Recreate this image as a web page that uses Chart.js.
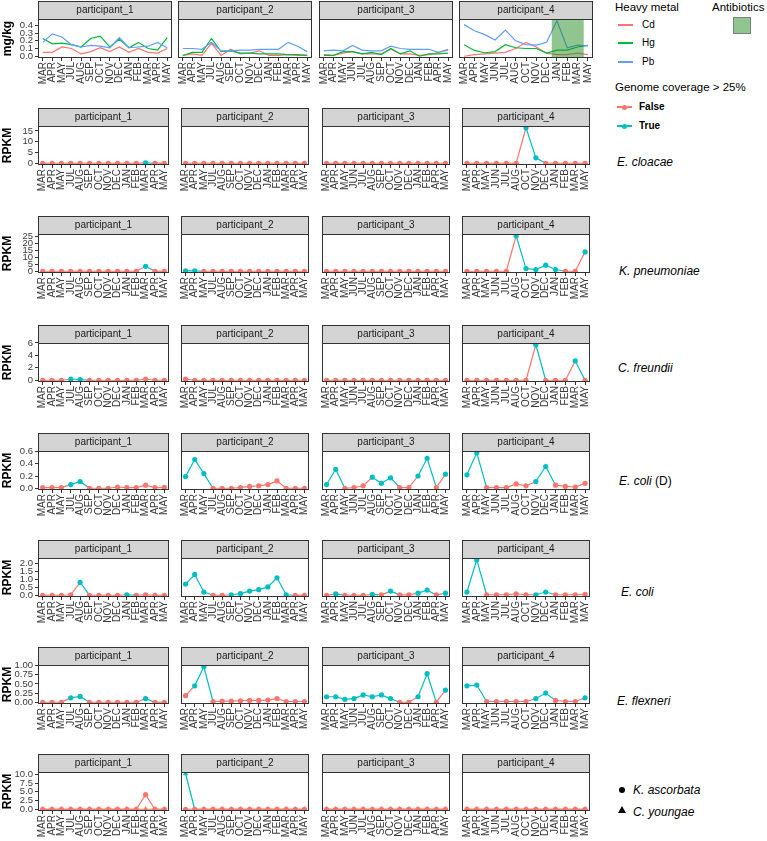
<!DOCTYPE html>
<html>
<head>
<meta charset="utf-8">
<script src="https://cdn.jsdelivr.net/npm/chart.js@4.4.0/dist/chart.umd.min.js"></script>
<style>
  body { margin: 0; background: #fff; font-family: "Liberation Sans", Arial, sans-serif; }
  #wrap { position: relative; width: 767px; height: 841px; overflow: hidden; }
  #wrap canvas { position: absolute; }
  .lg { position: absolute; white-space: nowrap; color: #000; line-height: 1; }
  .ttl { font-size: 11.5px; }
  .itm { font-size: 10px; }
  .sp { font-size: 12px; font-style: italic; }
  .key-line { position: absolute; height: 1.5px; width: 15px; }
  .key-dot { position: absolute; width: 5px; height: 5px; border-radius: 50%; }
</style>
</head>
<body>
<div id="wrap">
  <div class="lg ttl" style="left:615px;top:2px">Heavy metal</div>
  <div class="key-line" style="left:618px;top:24px;background:#F8766D"></div>
  <div class="lg itm" style="left:642px;top:20px">Cd</div>
  <div class="key-line" style="left:618px;top:42px;background:#00BA38"></div>
  <div class="lg itm" style="left:642px;top:38px">Hg</div>
  <div class="key-line" style="left:618px;top:61px;background:#619CFF"></div>
  <div class="lg itm" style="left:642px;top:57px">Pb</div>

  <div class="lg ttl" style="left:712px;top:2px">Antibiotics</div>
  <div style="position:absolute;left:733px;top:17px;width:16px;height:15px;background:#8FC58F;border:1.5px solid #808080"></div>

  <div class="lg ttl" style="left:615px;top:82px">Genome coverage &gt; 25%</div>
  <div class="key-line" style="left:617px;top:106px;background:#F8766D"></div>
  <div class="key-dot" style="left:622px;top:105px;background:#F8766D"></div>
  <div class="lg itm" style="left:639px;top:102px;font-weight:bold">False</div>
  <div class="key-line" style="left:617px;top:125px;background:#00BFC4"></div>
  <div class="key-dot" style="left:622px;top:124px;background:#00BFC4"></div>
  <div class="lg itm" style="left:639px;top:121px;font-weight:bold">True</div>

  <div class="lg sp" style="left:617px;top:156px">E. cloacae</div>
  <div class="lg sp" style="left:619px;top:265px">K. pneumoniae</div>
  <div class="lg sp" style="left:618px;top:362px">C. freundii</div>
  <div class="lg sp" style="left:619px;top:475px">E. coli <span style="font-style:normal">(D)</span></div>
  <div class="lg sp" style="left:621px;top:586px">E. coli</div>
  <div class="lg sp" style="left:617px;top:695px">E. flexneri</div>

  <div class="key-dot" style="left:619px;top:787px;width:6px;height:6px;background:#000"></div>
  <div class="lg sp" style="left:633px;top:784px">K. ascorbata</div>
  <div style="position:absolute;left:618px;top:806px;width:0;height:0;border-left:4px solid transparent;border-right:4px solid transparent;border-bottom:7px solid #000"></div>
  <div class="lg sp" style="left:633px;top:806px">C. youngae</div>
</div>
<script>
// --- DATA ---
const participants = ['participant_1', 'participant_2', 'participant_3', 'participant_4'];
const monthsP1 = ['MAR', 'APR', 'MAY', 'JUL', 'AUG', 'SEP', 'OCT', 'NOV', 'DEC', 'JAN', 'FEB', 'MAR', 'APR', 'MAY'];
const monthsP2 = ['MAR', 'APR', 'MAY', 'JUL', 'AUG', 'SEP', 'OCT', 'NOV', 'DEC', 'JAN', 'FEB', 'MAR', 'APR', 'MAY'];
const monthsP3 = ['MAR', 'APR', 'MAY', 'JUN', 'JUL', 'AUG', 'SEP', 'OCT', 'NOV', 'DEC', 'JAN', 'FEB', 'APR', 'MAY'];
const monthsP4 = ['MAR', 'APR', 'MAY', 'JUN', 'JUL', 'AUG', 'OCT', 'NOV', 'DEC', 'JAN', 'FEB', 'MAR', 'MAY'];
const months = [monthsP1, monthsP2, monthsP3, monthsP4];

// heavy metals, mg/kg (one array per participant)
const heavyCd = [
    [0.05, 0.05, 0.12, 0.10, 0.03, 0.06, 0.11, 0.06, 0.12, 0.05, 0.10, 0.05, 0.04, 0.10],
    [0.01, 0.03, 0.01, 0.17, 0.01, 0.09, 0.03, 0.04, 0.07, 0.01, 0.01, 0.02, 0.01, 0.01],
    [0.02, 0.01, 0.04, 0.06, 0.03, 0.03, 0.03, 0.09, 0.03, 0.03, 0.01, 0.02, 0.05, 0.08],
    [0.00, 0.02, 0.03, 0.04, 0.05, 0.10, 0.18, 0.12, 0.04, 0.02, 0.02, 0.04, 0.02]
];
const heavyHg = [
    [0.23, 0.16, 0.17, 0.15, 0.12, 0.23, 0.26, 0.12, 0.22, 0.11, 0.18, 0.10, 0.08, 0.24],
    [0.01, 0.05, 0.05, 0.23, 0.06, 0.07, 0.04, 0.04, 0.03, 0.03, 0.03, 0.02, 0.02, 0.01],
    [0.01, 0.01, 0.06, 0.06, 0.03, 0.05, 0.02, 0.10, 0.03, 0.07, 0.00, 0.03, 0.03, 0.04],
    [0.15, 0.075, 0.045, 0.06, 0.15, 0.11, 0.10, 0.10, 0.04, 0.08, 0.08, 0.12, 0.14]
];
const heavyPb = [
    [0.18, 0.29, 0.25, 0.15, 0.12, 0.14, 0.13, 0.11, 0.24, 0.11, 0.12, 0.13, 0.18, 0.11],
    [0.10, 0.10, 0.09, 0.18, 0.07, 0.07, 0.08, 0.08, 0.09, 0.09, 0.09, 0.18, 0.13, 0.06],
    [0.07, 0.08, 0.07, 0.14, 0.08, 0.07, 0.07, 0.13, 0.10, 0.09, 0.09, 0.09, 0.05, 0.09],
    [0.41, 0.33, 0.28, 0.21, 0.34, 0.20, 0.15, 0.145, 0.18, 0.46, 0.11, 0.145, 0.135]
];
const heavyTicks = ['0.0', '0.1', '0.2', '0.3', '0.4'];
const antibioticsP4 = [8.5, 11.6]; // DEC/JAN .. MAR/MAY, category units

// RPKM per species; *True = genome coverage > 25%
const cloacaeRpkm = [
    [0, 0, 0, 0, 0, 0, 0, 0, 0, 0, 0, 0.2, 0, 0],
    [0, 0, 0, 0, 0, 0, 0, 0, 0, 0, 0, 0, 0, 0],
    [0, 0, 0, 0, 0, 0, 0, 0, 0, 0, 0, 0, 0, 0],
    [0, 0, 0, 0, 0, 0, 16.5, 2.5, 0, 0, 0, 0, 0]
];
const cloacaeTrue = [
    [0, 0, 0, 0, 0, 0, 0, 0, 0, 0, 0, 1, 0, 0],
    [0, 0, 0, 0, 0, 0, 0, 0, 0, 0, 0, 0, 0, 0],
    [0, 0, 0, 0, 0, 0, 0, 0, 0, 0, 0, 0, 0, 0],
    [0, 0, 0, 0, 0, 0, 1, 1, 0, 0, 0, 0, 0]
];
const cloacaeTicks = ['0', '5', '10', '15'];

const pneumoniaeRpkm = [
    [0, 0, 0, 0, 0, 0, 0, 0, 0, 0, 0, 3.5, 0, 0],
    [0.3, 0.3, 0, 0, 0, 0, 0, 0, 0, 0, 0, 0, 0, 0],
    [0, 0, 0, 0, 0, 0, 0, 0, 0, 0, 0, 0, 0, 0],
    [0, 0, 0, 0, 0, 25.3, 1.9, 1.2, 4.3, 1.2, 0, 0, 13.8]
];
const pneumoniaeTrue = [
    [0, 0, 0, 0, 0, 0, 0, 0, 0, 0, 0, 1, 0, 0],
    [1, 1, 0, 0, 0, 0, 0, 0, 0, 0, 0, 0, 0, 0],
    [0, 0, 0, 0, 0, 0, 0, 0, 0, 0, 0, 0, 0, 0],
    [0, 0, 0, 0, 0, 1, 1, 1, 1, 1, 0, 0, 1]
];
const pneumoniaeTicks = ['0', '5', '10', '15', '20', '25'];

const freundiiRpkm = [
    [0, 0, 0, 0.2, 0.1, 0, 0, 0, 0, 0, 0, 0.2, 0, 0],
    [0.2, 0, 0, 0, 0, 0, 0, 0, 0, 0, 0, 0, 0, 0],
    [0, 0, 0, 0, 0, 0, 0, 0, 0, 0, 0, 0, 0, 0],
    [0, 0, 0, 0, 0, 0, 0, 5.7, 0, 0, 0, 3.1, 0]
];
const freundiiTrue = [
    [0, 0, 0, 1, 1, 0, 0, 0, 0, 0, 0, 0, 0, 0],
    [0, 0, 0, 0, 0, 0, 0, 0, 0, 0, 0, 0, 0, 0],
    [0, 0, 0, 0, 0, 0, 0, 0, 0, 0, 0, 0, 0, 0],
    [0, 0, 0, 0, 0, 0, 0, 1, 0, 0, 0, 1, 0]
];
const freundiiTicks = ['0', '2', '4', '6'];

const coliDRpkm = [
    [0.01, 0.01, 0.01, 0.06, 0.11, 0, 0, 0, 0.02, 0.01, 0.01, 0.05, 0.01, 0.015],
    [0.19, 0.47, 0.24, 0, 0, 0, 0.01, 0.03, 0.04, 0.06, 0.12, 0, 0, 0],
    [0.06, 0.31, 0, 0.01, 0.04, 0.18, 0.08, 0.17, 0.01, 0.01, 0.2, 0.49, 0.01, 0.23],
    [0.22, 0.58, 0.01, 0.01, 0.01, 0.07, 0.04, 0.11, 0.355, 0.05, 0.03, 0.02, 0.08]
];
const coliDTrue = [
    [0, 0, 0, 1, 1, 0, 0, 0, 0, 0, 0, 0, 0, 0],
    [1, 1, 1, 0, 0, 0, 0, 0, 0, 0, 0, 0, 0, 0],
    [1, 1, 0, 0, 0, 1, 1, 1, 0, 0, 1, 1, 0, 1],
    [1, 1, 0, 0, 0, 0, 0, 1, 1, 0, 0, 0, 0]
];
const coliDTicks = ['0.0', '0.2', '0.4', '0.6'];

const coliRpkm = [
    [0, 0, 0, 0.03, 0.8, 0, 0, 0, 0, 0.03, 0, 0.03, 0, 0],
    [0.7, 1.3, 0.2, 0, 0, 0.03, 0.1, 0.26, 0.35, 0.52, 1.09, 0.03, 0, 0],
    [0, 0.08, 0, 0, 0, 0.05, 0.02, 0.26, 0.02, 0.02, 0.13, 0.32, 0.02, 0.13],
    [0.2, 2.22, 0.03, 0.03, 0.03, 0.08, 0.03, 0.03, 0.2, 0.03, 0.03, 0.03, 0.06]
];
const coliTrue = [
    [0, 0, 0, 0, 1, 0, 0, 0, 0, 1, 0, 0, 0, 0],
    [1, 1, 1, 0, 0, 1, 1, 1, 1, 1, 1, 1, 0, 0],
    [0, 1, 0, 0, 0, 1, 0, 1, 0, 0, 1, 1, 0, 1],
    [1, 1, 0, 0, 0, 0, 0, 1, 1, 0, 0, 0, 0]
];
const coliTicks = ['0.0', '0.5', '1.0', '1.5', '2.0'];

const flexneriRpkm = [
    [0, 0, 0, 0.12, 0.16, 0, 0, 0, 0, 0, 0, 0.1, 0, 0],
    [0.18, 0.45, 0.97, 0.02, 0.03, 0.03, 0.04, 0.05, 0.05, 0.06, 0.1, 0.02, 0.02, 0.02],
    [0.15, 0.15, 0.08, 0.1, 0.2, 0.15, 0.2, 0.1, 0, 0, 0.15, 0.78, 0, 0.33],
    [0.45, 0.47, 0.02, 0.02, 0.02, 0.02, 0.02, 0.1, 0.25, 0.05, 0.02, 0.02, 0.12]
];
const flexneriTrue = [
    [0, 0, 0, 1, 1, 0, 0, 0, 0, 0, 0, 1, 0, 0],
    [0, 1, 1, 0, 0, 0, 0, 0, 0, 0, 0, 0, 0, 0],
    [1, 1, 1, 1, 1, 1, 1, 1, 0, 0, 1, 1, 0, 1],
    [1, 1, 0, 0, 0, 0, 0, 1, 1, 0, 0, 0, 1]
];
const flexneriTicks = ['0.00', '0.25', '0.50', '0.75', '1.00'];

const ascorbataRpkm = [
    [0, 0, 0, 0, 0, 0, 0, 0, 0, 0, 0, 4.2, 0, 0],
    [0, 0, 0, 0, 0, 0, 0, 0, 0, 0, 0, 0, 0, 0],
    [0, 0, 0, 0, 0, 0, 0, 0, 0, 0, 0, 0, 0, 0],
    [0, 0, 0, 0, 0, 0, 0, 0, 0, 0, 0, 0, 0]
];
const ascorbataTrue = [
    [0, 0, 0, 0, 0, 0, 0, 0, 0, 0, 0, 0, 0, 0],
    [0, 0, 0, 0, 0, 0, 0, 0, 0, 0, 0, 0, 0, 0],
    [0, 0, 0, 0, 0, 0, 0, 0, 0, 0, 0, 0, 0, 0],
    [0, 0, 0, 0, 0, 0, 0, 0, 0, 0, 0, 0, 0]
];
const youngaeRpkm = [
    [0, 0, 0, 0, 0, 0, 0, 0, 0, 0, 0, 0, 0, 0],
    [10.2, 0, 0, 0, 0, 0, 0, 0, 0, 0, 0, 0, 0, 0],
    [0, 0, 0, 0, 0, 0, 0, 0, 0, 0, 0, 0, 0, 0],
    [0, 0, 0, 0, 0, 0, 0, 0, 0, 0, 0, 0, 0]
];
const youngaeTrue = [
    [0, 0, 0, 0, 0, 0, 0, 0, 0, 0, 0, 0, 0, 0],
    [1, 0, 0, 0, 0, 0, 0, 0, 0, 0, 0, 0, 0, 0],
    [0, 0, 0, 0, 0, 0, 0, 0, 0, 0, 0, 0, 0, 0],
    [0, 0, 0, 0, 0, 0, 0, 0, 0, 0, 0, 0, 0]
];
const shapeTicks = ['0.0', '2.5', '5.0', '7.5', '10.0'];

// --- STYLE / LAYOUT ---
const COL_FALSE = '#F8766D', COL_TRUE = '#00BFC4';
const COL_CD = '#F8766D', COL_HG = '#00BA38', COL_PB = '#619CFF';
const PANEL_LEFT = [38, 178, 319, 459];
const PANEL_W = 134;
const Y_AXIS_W = 38;
const STRIP_H = 18, PLOT_H = 39, XAXIS_H = 32;
const ROW_TOP = [0, 107, 215, 324, 432, 539, 646, 753];
const FONT = '"Liberation Sans", Arial, sans-serif';

const wrap = document.getElementById('wrap');

// strip + panel border + antibiotics shading
const facetPlugin = {
    id: 'facet',
    afterDatasetsDraw(chart, args, opts) {
        if (!opts.shade) return;
        const { ctx, chartArea: ca } = chart;
        const x = chart.scales.x;
        const x0 = x.getPixelForValue(opts.shade[0]);
        const x1 = x.getPixelForValue(opts.shade[1]);
        ctx.save();
        ctx.fillStyle = 'rgba(34,139,34,0.5)';
        ctx.fillRect(x0, ca.top, x1 - x0, ca.bottom - ca.top);
        ctx.restore();
    },
    afterDraw(chart, args, opts) {
        const { ctx, chartArea: ca } = chart;
        ctx.save();
        const l = Math.round(ca.left) + 0.5, r = Math.round(ca.right) - 0.5;
        const t = Math.round(ca.top) + 0.5, b = Math.round(ca.bottom) - 0.5;
        ctx.fillStyle = '#D4D4D4';
        ctx.fillRect(l, t - STRIP_H, r - l, STRIP_H);
        ctx.strokeStyle = '#333333';
        ctx.lineWidth = 1;
        ctx.strokeRect(l, t - STRIP_H, r - l, STRIP_H);
        ctx.strokeRect(l, t, r - l, b - t);
        ctx.fillStyle = '#1A1A1A';
        ctx.font = '10px ' + FONT;
        ctx.textAlign = 'center';
        ctx.textBaseline = 'middle';
        ctx.fillText(opts.title, (l + r) / 2, t - STRIP_H / 2);
        ctx.restore();
    }
};

function rowRange(seriesList) {
    const all = seriesList.flat(2);
    const lo = Math.min(...all), hi = Math.max(...all);
    const pad = (hi - lo) * 0.05;
    return { min: lo - pad, max: hi + pad };
}

function statusDataset(values, status, style) {
    const colorOf = s => (s ? COL_TRUE : COL_FALSE);
    return {
        data: values,
        borderWidth: 1.2,
        borderColor: COL_FALSE,
        segment: { borderColor: c => colorOf(status[c.p0DataIndex]) },
        pointStyle: style,
        pointRadius: style === 'triangle' ? 3.2 : 2.6,
        pointBorderWidth: 0,
        pointBackgroundColor: status.map(colorOf),
        pointBorderColor: status.map(colorOf)
    };
}

function buildPanel(rowTop, col, datasets, range, tickLabels, yTitle, shade) {
    const first = col === 0;
    const canvas = document.createElement('canvas');
    const w = PANEL_W + (first ? Y_AXIS_W : 1) + 1;
    const h = STRIP_H + 1 + PLOT_H + XAXIS_H;
    canvas.width = w;
    canvas.height = h;
    canvas.style.left = (PANEL_LEFT[col] - (first ? Y_AXIS_W : 1)) + 'px';
    canvas.style.top = rowTop + 'px';
    wrap.appendChild(canvas);

    const tickVals = tickLabels.map(Number);
    const tickGrid = { display: true, drawOnChartArea: false, drawTicks: true, tickLength: 3, color: '#333333', offset: false };

    new Chart(canvas, {
        type: 'line',
        data: { labels: months[col], datasets },
        options: {
            responsive: false,
            animation: false,
            devicePixelRatio: 1,
            layout: { padding: { top: STRIP_H + 1, left: first ? 0 : 1, right: 1, bottom: 0 } },
            plugins: {
                legend: { display: false },
                tooltip: { enabled: false },
                facet: { title: participants[col], shade }
            },
            scales: {
                x: {
                    type: 'category',
                    offset: true,
                    grid: tickGrid,
                    border: { display: false },
                    ticks: { minRotation: 90, maxRotation: 90, autoSkip: false, padding: 1, color: '#3A3A3A', font: { family: FONT, size: 10 } },
                    afterFit: s => { s.height = XAXIS_H; s.paddingLeft = 0; s.paddingRight = 0; }
                },
                y: {
                    display: first,
                    min: range.min,
                    max: range.max,
                    grid: tickGrid,
                    border: { display: false },
                    afterBuildTicks: s => { s.ticks = tickVals.map(v => ({ value: v })); },
                    ticks: { autoSkip: false, padding: 2, color: '#3A3A3A', font: { family: FONT, size: 9.5 }, callback: (v, i) => tickLabels[i] },
                    title: { display: true, text: yTitle, color: '#000', font: { family: FONT, size: 12, weight: 'bold' }, padding: { top: 0, bottom: 0 } },
                    afterFit: s => {
                        s.paddingTop = 0; s.paddingBottom = 0;
                        if (first) s.width = Y_AXIS_W;
                    }
                }
            }
        },
        plugins: [facetPlugin]
    });
}

// --- BUILD ---
function main() {
    // heavy metal row
    const heavyRange = rowRange([heavyCd, heavyHg, heavyPb]);
    for (let c = 0; c < 4; c++) {
        const line = (d, col) => ({ data: d, borderColor: col, borderWidth: 1.2, pointRadius: 0 });
        buildPanel(ROW_TOP[0], c, [line(heavyCd[c], COL_CD), line(heavyHg[c], COL_HG), line(heavyPb[c], COL_PB)].reverse(),
            heavyRange, heavyTicks, 'mg/kg', c === 3 ? antibioticsP4 : null);
    }

    const speciesRows = [
        { values: cloacaeRpkm, status: cloacaeTrue, ticks: cloacaeTicks },
        { values: pneumoniaeRpkm, status: pneumoniaeTrue, ticks: pneumoniaeTicks },
        { values: freundiiRpkm, status: freundiiTrue, ticks: freundiiTicks },
        { values: coliDRpkm, status: coliDTrue, ticks: coliDTicks },
        { values: coliRpkm, status: coliTrue, ticks: coliTicks },
        { values: flexneriRpkm, status: flexneriTrue, ticks: flexneriTicks }
    ];
    speciesRows.forEach((row, r) => {
        const range = rowRange([row.values]);
        for (let c = 0; c < 4; c++) {
            buildPanel(ROW_TOP[r + 1], c, [statusDataset(row.values[c], row.status[c], 'circle')], range, row.ticks, 'RPKM');
        }
    });

    // last row: two species by shape
    const shapeRange = rowRange([ascorbataRpkm, youngaeRpkm]);
    for (let c = 0; c < 4; c++) {
        buildPanel(ROW_TOP[7], c, [
            statusDataset(youngaeRpkm[c], youngaeTrue[c], 'triangle'),
            statusDataset(ascorbataRpkm[c], ascorbataTrue[c], 'circle')
        ], shapeRange, shapeTicks, 'RPKM');
    }
}

main();
</script>
</body>
</html>
